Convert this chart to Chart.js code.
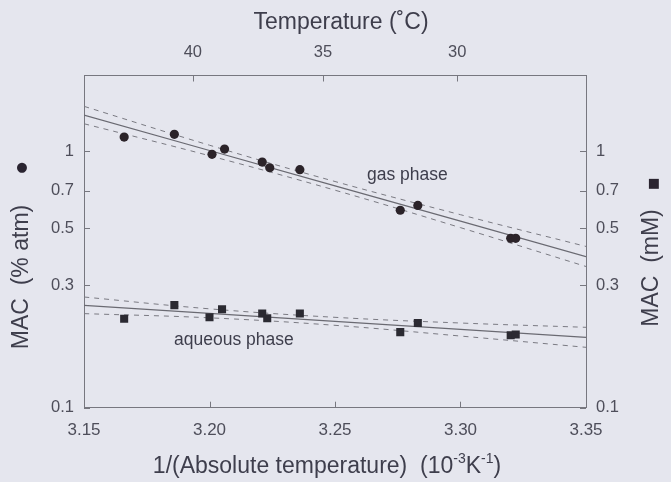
<!DOCTYPE html>
<html>
<head>
<meta charset="utf-8">
<script src="https://cdn.jsdelivr.net/npm/chart.js@4/dist/chart.umd.min.js"></script>
<style>
  html, body { margin: 0; padding: 0; background: #e5e6ee; }
  canvas { display: block; }
</style>
</head>
<body>
<canvas id="c" width="671" height="482"></canvas>
<script>
// ---- data ----
const gasX = [3.166, 3.186, 3.201, 3.206, 3.221, 3.224, 3.236, 3.276, 3.283, 3.320, 3.322];
const gasY = [1.134, 1.162, 0.971, 1.018, 0.906, 0.861, 0.846, 0.588, 0.614, 0.457, 0.457];
const aqX  = [3.166, 3.186, 3.200, 3.205, 3.221, 3.223, 3.236, 3.276, 3.283, 3.320, 3.322];
const aqY  = [0.222, 0.251, 0.225, 0.242, 0.233, 0.223, 0.233, 0.197, 0.214, 0.1915, 0.193];

const fitX     = [3.15, 3.20, 3.25, 3.30, 3.35];
const gasFit   = [1.381, 1.005, 0.732, 0.533, 0.388];
const gasUpper = [1.494, 1.054, 0.761, 0.565, 0.425];
const gasLower = [1.278, 0.959, 0.704, 0.503, 0.355];
const aqFit    = [0.2505, 0.2332, 0.2171, 0.2020, 0.1880];
const aqUpper  = [0.2700, 0.2428, 0.2250, 0.2138, 0.2057];
const aqLower  = [0.2326, 0.2240, 0.2094, 0.1902, 0.1719];

const xTicks    = [3.15, 3.20, 3.25, 3.30, 3.35];
const topTempC  = [40, 35, 30];
const yTicks    = [0.1, 0.3, 0.5, 0.7, 1];

const toPts = (xs, ys) => xs.map((x, i) => ({x: x, y: ys[i]}));

const INK = '#3e3e4c';
const LINE = '#6a6a72';
Chart.defaults.font.family = '"Liberation Sans", Arial, Helvetica, sans-serif';
Chart.defaults.color = '#4e4e5a';

const lineDs = (xs, ys, dashed) => ({
  type: 'line', data: toPts(xs, ys), borderColor: dashed ? '#7a7a82' : LINE,
  borderWidth: dashed ? 1 : 1.2, borderDash: dashed ? [5, 5] : [],
  pointRadius: 0, tension: dashed ? 0.4 : 0, fill: false, order: 2,
  xAxisID: 'x', yAxisID: 'y'
});

const inwardTicks = {
  id: 'inwardTicks',
  afterDraw(chart) {
    const ctx = chart.ctx, a = chart.chartArea, L = 6;
    ctx.save();
    ctx.strokeStyle = '#77777f'; ctx.lineWidth = 1;
    const sx = chart.scales.x, st = chart.scales.xTop, sy = chart.scales.y, sr = chart.scales.yRight;
    ctx.beginPath();
    sx.ticks.forEach(t => { const p = Math.round(sx.getPixelForValue(t.value)) + 0.5; ctx.moveTo(p, a.bottom); ctx.lineTo(p, a.bottom - L); });
    st.ticks.forEach(t => { const p = Math.round(st.getPixelForValue(t.value)) + 0.5; ctx.moveTo(p, a.top); ctx.lineTo(p, a.top + L); });
    sy.ticks.forEach(t => { const p = Math.round(sy.getPixelForValue(t.value)) + 0.5; ctx.moveTo(a.left, p); ctx.lineTo(a.left + L, p); });
    sr.ticks.forEach(t => { const p = Math.round(sr.getPixelForValue(t.value)) + 0.5; ctx.moveTo(a.right, p); ctx.lineTo(a.right - L, p); });
    ctx.stroke();

    // texts
    ctx.fillStyle = INK;
    ctx.textBaseline = 'middle';
    ctx.textAlign = 'center';
    ctx.font = '23px "Liberation Sans", Arial, sans-serif';
    ctx.fillText('Temperature (˚C)', 341, 23);

    // bottom title with superscripts
    const parts = [
      ['1/(Absolute temperature)  (10', 23, 0],
      ['-3', 14, -8],
      ['K', 23, 0],
      ['-1', 14, -8],
      [')', 23, 0]
    ];
    let total = 0;
    parts.forEach(p => { ctx.font = p[1] + 'px "Liberation Sans", Arial, sans-serif'; p.push(ctx.measureText(p[0]).width); total += p[3]; });
    let xx = 327 - total / 2;
    ctx.textAlign = 'left';
    parts.forEach(p => { ctx.font = p[1] + 'px "Liberation Sans", Arial, sans-serif'; ctx.fillText(p[0], xx, 467 + p[2]); xx += p[3]; });

    // rotated y titles
    ctx.font = '23px "Liberation Sans", Arial, sans-serif';
    ctx.textAlign = 'center';
    ctx.save(); ctx.translate(22, 277); ctx.rotate(-Math.PI / 2); ctx.fillText('MAC  (% atm)', 0, 0); ctx.restore();
    ctx.save(); ctx.translate(652, 268); ctx.rotate(-Math.PI / 2); ctx.fillText('MAC  (mM)', 0, 0); ctx.restore();

    ctx.fillStyle = '#2a2430';
    ctx.font = '13px "DejaVu Sans", sans-serif';
    ctx.fillText('●', 22, 168);
    ctx.fillText('■', 654, 184);

    // annotations
    ctx.fillStyle = INK;
    ctx.textAlign = 'left';
    ctx.font = '17.5px "Liberation Sans", Arial, sans-serif';
    ctx.fillText('gas phase', 367, 175);
    ctx.fillText('aqueous phase', 174, 340);
    ctx.restore();
  }
};

const fixSize = (prop, v) => (scale) => { scale[prop] = v; };
const setTicks = (vals) => (scale) => { scale.ticks = vals.map(v => ({value: v})); };

new Chart(document.getElementById('c'), {
  data: {
    datasets: [
      { type: 'scatter', data: toPts(gasX, gasY), pointStyle: 'circle', pointRadius: 4.6,
        backgroundColor: '#2b2329', borderColor: '#2b2329', borderWidth: 0, order: 0, xAxisID: 'x', yAxisID: 'y' },
      { type: 'scatter', data: toPts(aqX, aqY), pointStyle: 'rect', pointRadius: 5.7,
        backgroundColor: '#2b2a32', borderColor: '#2b2a32', borderWidth: 0, order: 0, xAxisID: 'x', yAxisID: 'y' },
      lineDs(fitX, gasFit, false),
      lineDs(fitX, gasUpper, true),
      lineDs(fitX, gasLower, true),
      lineDs(fitX, aqFit, false),
      lineDs(fitX, aqUpper, true),
      lineDs(fitX, aqLower, true)
    ]
  },
  options: {
    responsive: false, animation: false,
    layout: { padding: 0 },
    plugins: { legend: { display: false }, tooltip: { enabled: false } },
    scales: {
      x: {
        type: 'linear', position: 'bottom', min: 3.15, max: 3.35,
        afterBuildTicks: setTicks(xTicks),
        afterFit: fixSize('height', 74.3),
        grid: { drawOnChartArea: false, drawTicks: false },
        border: { display: true, color: '#77777f', width: 1 },
        ticks: { padding: 12, font: { size: 17 }, callback: v => v.toFixed(2) }
      },
      xTop: {
        type: 'linear', position: 'top', min: 3.15, max: 3.35,
        afterBuildTicks: setTicks(topTempC.map(t => 1000 / (t + 273.15))),
        afterFit: fixSize('height', 75.5),
        grid: { drawOnChartArea: false, drawTicks: false },
        border: { display: true, color: '#77777f', width: 1 },
        ticks: { padding: 13, font: { size: 16.5 }, callback: v => String(Math.round(1000 / v - 273.15)) }
      },
      y: {
        type: 'logarithmic', position: 'left', min: 0.1, max: 1.97,
        afterBuildTicks: setTicks(yTicks),
        afterFit: fixSize('width', 84),
        grid: { drawOnChartArea: false, drawTicks: false },
        border: { display: true, color: '#77777f', width: 1 },
        ticks: { padding: 10, font: { size: 16.5 }, callback: v => String(v) }
      },
      yRight: {
        type: 'logarithmic', position: 'right', min: 0.1, max: 1.97,
        afterBuildTicks: setTicks(yTicks),
        afterFit: fixSize('width', 85),
        grid: { drawOnChartArea: false, drawTicks: false },
        border: { display: true, color: '#77777f', width: 1 },
        ticks: { padding: 10, font: { size: 16.5 }, callback: v => String(v) }
      }
    }
  },
  plugins: [inwardTicks]
});
</script>
</body>
</html>
